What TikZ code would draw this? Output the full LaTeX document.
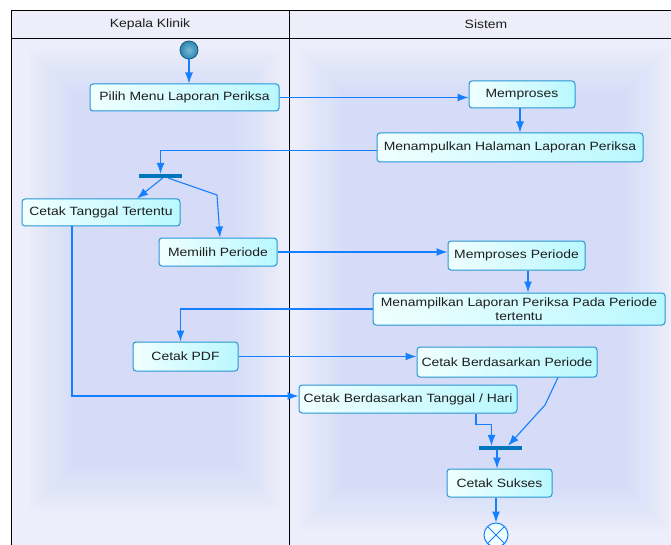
\documentclass[tikz,border=0pt]{standalone}
\usepackage{fontspec}
\setmainfont{Liberation Sans}[FakeStretch=1.16]
\usepackage{tikz}
\usetikzlibrary{arrows.meta}
\definecolor{headfill}{RGB}{238, 238, 250}
\definecolor{laneout}{RGB}{237, 238, 251}
\definecolor{lanein}{RGB}{200, 212, 248}
\definecolor{boxline}{RGB}{40, 150, 210}
\definecolor{boxlight}{RGB}{240, 255, 255}
\definecolor{boxdark}{RGB}{185, 248, 255}
\definecolor{flowblue}{RGB}{20, 128, 255}
\definecolor{barcol}{RGB}{0, 118, 190}
\definecolor{textcol}{RGB}{30, 30, 30}

\begin{document}
\begin{tikzpicture}[x=1pt, y=-1pt, font=\fontsize{12}{14}\selectfont,
  activity/.style={draw=boxline, line width=1pt, rounded corners=3pt,
    left color=boxlight, right color=boxdark, text=textcol, inner sep=2pt, align=center},
  flow/.style={draw=flowblue, line width=1.1pt, -{Latex[length=11pt, width=8pt]}},
  syncbar/.style={fill=barcol, minimum width=43pt, minimum height=4pt, inner sep=0pt},
  startnode/.style={circle, draw={rgb,255:red,20;green,90;blue,130}, line width=0.8pt,
    inner color={rgb,255:red,120;green,185;blue,215}, outer color={rgb,255:red,45;green,135;blue,175},
    minimum size=18pt, inner sep=0pt},
  endnode/.style={circle, draw=flowblue, line width=1pt, fill=boxlight, minimum size=24pt, inner sep=0pt},
  lanelabel/.style={text=textcol}]
  \useasboundingbox (0,0) rectangle (671,545);

  % Lanes
  \fill [headfill] (11,10) rectangle (671,38);
  \fill [laneout] (11,38) rectangle (671,545);
  \foreach \d in {0,3,...,45} {
    \fill [lanein, opacity=0.045] ({30+\d},{50+\d}) rectangle ({280-\d},{510-\d});
    \fill [lanein, opacity=0.045] ({300+\d},{50+\d}) rectangle ({668-\d},{530-\d});
  }
  \draw [line width=0.8pt] (671,10) -- (11,10) -- (11,545);
  \draw [line width=0.8pt] (11,38) -- (671,38);
  \draw [line width=0.8pt] (289,10) -- (289,545);
  \node [lanelabel] (kepala) at (150,24) {Kepala Klinik};
  \node [lanelabel] (sistem) at (486,24) {Sistem};

  % Kepala Klinik
  \node [startnode] (start) at (189,50) {};
  \node [activity, minimum width=189pt, minimum height=27pt] (pilih) at (184.5,97.5) {Pilih Menu Laporan Periksa};
  \node [syncbar] (fork) at (160.5,176) {};
  \node [activity, minimum width=158pt, minimum height=27pt] (cetaktgl) at (101,212.5) {Cetak Tanggal Tertentu};
  \node [activity, minimum width=118pt, minimum height=28pt] (memilih) at (218,252) {Memilih Periode};
  \node [activity, minimum width=105pt, minimum height=29pt] (pdf) at (185.5,356.5) {Cetak PDF};

  % Sistem
  \node [activity, minimum width=106pt, minimum height=27pt] (memproses) at (522,94.5) {Memproses};
  \node [activity, minimum width=266pt, minimum height=29pt] (halaman) at (510,147.5) {Menampulkan Halaman Laporan Periksa};
  \node [activity, minimum width=137pt, minimum height=29pt] (prosesperiode) at (516.5,255.5) {Memproses Periode};
  \node [activity, minimum width=292pt, minimum height=32pt, inner sep=1pt] (tampil) at (519,309)
    {Menampilkan Laporan Periksa Pada Periode\\tertentu};
  \node [activity, minimum width=180pt, minimum height=30pt] (berdasarperiode) at (507,362) {Cetak Berdasarkan Periode};
  \node [activity, minimum width=218pt, minimum height=28pt] (berdasartgl) at (408,399) {Cetak Berdasarkan Tanggal / Hari};
  \node [syncbar] (join) at (500.5,448) {};
  \node [activity, minimum width=105pt, minimum height=28pt] (sukses) at (499.5,483) {Cetak Sukses};
  \node [endnode] (end) at (496,535) {};
  \draw [flowblue, line width=1pt] (end.north west) -- (end.south east) (end.north east) -- (end.south west);

  \coordinate (bendmemilih) at (217,195);
  \coordinate (bendperiode) at (545,405);

  % Flows
  \draw [flow] (start) -- (start |- pilih.north);
  \draw [flow] (pilih.east) -- (pilih.east -| memproses.west);
  \draw [flow] ([xshift=-2pt]memproses.south) -- ([xshift=-2pt]memproses.south |- halaman.north);
  \draw [flow] ([yshift=-3pt]halaman.west) -| (fork.north);
  \draw [flow] ([xshift=2pt]fork.south) -- ([xshift=36pt]cetaktgl.north);
  \draw [flow] ([xshift=8pt]fork.south) -- (bendmemilih) -- ([xshift=2pt]memilih.north);
  \draw [flow] (memilih.east) -- (memilih.east -| prosesperiode.west);
  \draw [flow] ([xshift=11.5pt]prosesperiode.south) -- ([xshift=11.5pt]prosesperiode.south |- tampil.north);
  \draw [flow] (tampil.west) -| ([xshift=-5pt]pdf.north);
  \draw [flow] (pdf.east) -- (pdf.east -| berdasarperiode.west);
  \draw [flow] ([xshift=-29pt]cetaktgl.south) |- ([yshift=3pt]berdasartgl.west);
  \draw [flow] ([xshift=68pt]berdasartgl.south) -- ++(0,11) -| ([xshift=-9pt]join.north);
  \draw [flow] ([xshift=51pt]berdasarperiode.south) -- (bendperiode) -- ([xshift=7.5pt]join.north);
  \draw [flow] ([xshift=-3.5pt]join.south) -- ([xshift=-3.5pt]join.south |- sukses.north);
  \draw [flow] (sukses.south -| end) -- (end);
\end{tikzpicture}
\end{document}
